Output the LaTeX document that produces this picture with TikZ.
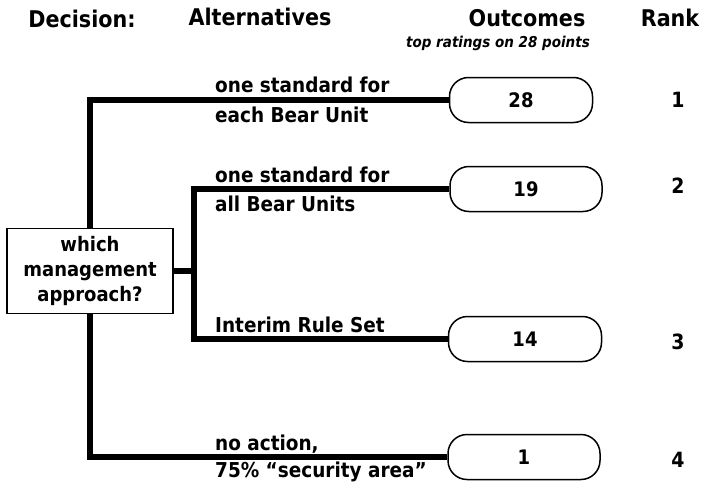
\documentclass[tikz,border=0pt]{standalone}
\usepackage{fontspec}
\setmainfont{DejaVu Sans Condensed}
\usetikzlibrary{positioning}

\begin{document}
\begin{tikzpicture}[x=1pt,y=-1pt,
    header/.style={anchor=base, inner sep=0pt, font=\fontsize{23}{27}\selectfont\bfseries},
    altlabel/.style={anchor=base west, inner sep=0pt, font=\fontsize{20.5}{24}\selectfont\bfseries},
    outcome/.style={rectangle, rounded corners=19pt, draw, line width=1.5pt,
      minimum height=45pt, font=\fontsize{20}{24}\selectfont\bfseries},
    choice/.style={rectangle, draw, line width=1.8pt, minimum width=166pt, minimum height=85pt,
      align=center, font=\fontsize{20}{25}\selectfont\bfseries},
    ranknum/.style={inner sep=0pt, font=\fontsize{21}{25}\selectfont\bfseries},
    branch/.style={line width=5.5pt}
  ]
    \useasboundingbox (0,0) rectangle (704,485);
    % column headers
    \node[header] (hdec)  at (82,27)  {Decision:};
    \node[header] (halt)  at (260,25) {Alternatives};
    \node[header] (hout)  at (527,26) {Outcomes};
    \node[header] (hrank) at (670,26) {Rank};
    \node[anchor=base east, inner sep=0pt, font=\fontsize{15}{18}\selectfont\bfseries\itshape]
      (hnote) at (590,47) {top ratings on 28 points};
    % decision and outcomes
    \node[choice] (dec) at (90,271) {which\\management\\approach?};
    \node[outcome, minimum width=143pt] (o1) at (521,100) {28};
    \node[outcome, minimum width=152pt] (o2) at (526,189) {19};
    \node[outcome, minimum width=153pt] (o3) at (525,339) {14};
    \node[outcome, minimum width=152pt] (o4) at (524,457) {1};
    \coordinate[right=20pt of dec.east] (j2);
    % branches
    \draw[branch] (o1.west) -| (dec.north);
    \draw[branch] (dec.east) -- (j2);
    \draw[branch] (o2.west) -| (j2) |- (o3.west);
    \draw[branch] (dec.south) |- (o4.west);
    % alternatives
    \node[altlabel] (a1t) at (215,92)  {one standard for};
    \node[altlabel] (a1b) at (215,122) {each Bear Unit};
    \node[altlabel] (a2t) at (215,182) {one standard for};
    \node[altlabel] (a2b) at (215,211) {all Bear Units};
    \node[altlabel] (a3t) at (215,332) {Interim Rule Set};
    \node[altlabel] (a4t) at (215,450) {no action,};
    \node[altlabel] (a4b) at (215,477) {75\% “security area”};
    % ranks
    \node[ranknum] (r1) at (678,100) {1};
    \node[ranknum] (r2) at (678,186) {2};
    \node[ranknum] (r3) at (678,342) {3};
    \node[ranknum] (r4) at (678,460) {4};
  \end{tikzpicture}
\end{document}
